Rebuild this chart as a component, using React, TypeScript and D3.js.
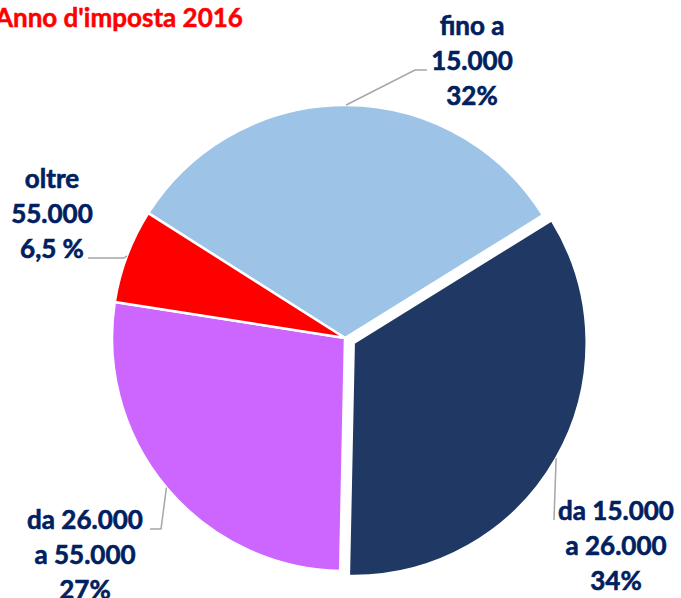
import React from "react";
import * as d3 from "d3";

const categories = ["fino a 15.000", "da 15.000 a 26.000", "da 26.000 a 55.000", "oltre 55.000"];
const values = [32, 34, 27, 6.5];
const labelLines = [
  ["fino a", "15.000", "32%"],
  ["da 15.000", "a 26.000", "34%"],
  ["da 26.000", "a 55.000", "27%"],
  ["oltre", "55.000", "6,5 %"],
];
const colors = ["#9DC3E6", "#203864", "#CC66FF", "#FF0000"];
const explode = [0, 10, 0, 0];
const title = "Anno d'imposta 2016";

// label layout: center x, first baseline, leader elbow & end
const labelPos = [
  { x: 472, y: 35, elbow: [415, 70], end: [427, 70] },
  { x: 616, y: 520, elbow: [554, 520], end: [554, 520] },
  { x: 85, y: 529, elbow: [161, 529], end: [150, 529] },
  { x: 52, y: 188, elbow: [124, 258], end: [88, 258] },
];

export default function App() {
  const W = 681, H = 598;
  const cx = 345, cy = 338, R = 233;
  const startAngle = (-57.6 * Math.PI) / 180;
  const pie = d3.pie<number>().sort(null).value((d) => d).startAngle(startAngle).endAngle(startAngle + 2 * Math.PI);
  const arcs = pie(values);
  const arc = d3.arc<d3.PieArcDatum<number>>().innerRadius(0).outerRadius(R);

  return (
    <svg width={W} height={H} style={{ position: "absolute", left: 0, top: 0, background: "#fff" }}
      fontFamily="Lato, 'Open Sans', sans-serif">
      <text x={-5} y={27} fill="#FF0000" stroke="#FF0000" strokeWidth={0.5} fontWeight="bold" fontSize={26}>{title}</text>
      {arcs.map((a, i) => {
        const mid = (a.startAngle + a.endAngle) / 2;
        const ox = Math.sin(mid) * explode[i];
        const oy = -Math.cos(mid) * explode[i];
        return (
          <path key={categories[i]} d={arc(a) || ""} transform={`translate(${cx + ox},${cy + oy})`}
            fill={colors[i]} stroke="#fff" strokeWidth={2.5} strokeLinejoin="round" />
        );
      })}
      {arcs.map((a, i) => {
        const mid = (a.startAngle + a.endAngle) / 2;
        const ox = Math.sin(mid) * explode[i];
        const oy = -Math.cos(mid) * explode[i];
        const px = cx + ox + Math.sin(mid) * R;
        const py = cy + oy - Math.cos(mid) * R;
        const lp = labelPos[i];
        const pts: [number, number][] = [[px, py], lp.elbow as [number, number], lp.end as [number, number]];
        return (
          <path key={"l" + i} d={d3.line()(pts) || ""} fill="none" stroke="#A6A6A6" strokeWidth={1.5} />
        );
      })}
      {labelLines.map((lines, i) => (
        <text key={"t" + i} textAnchor="middle" fill="#002060" fontWeight="bold" fontSize={26}
          stroke="#002060" strokeWidth={0.6}>
          {lines.map((l, j) => (
            <tspan key={j} x={labelPos[i].x} y={labelPos[i].y + j * 35}>{l}</tspan>
          ))}
        </text>
      ))}
    </svg>
  );
}
